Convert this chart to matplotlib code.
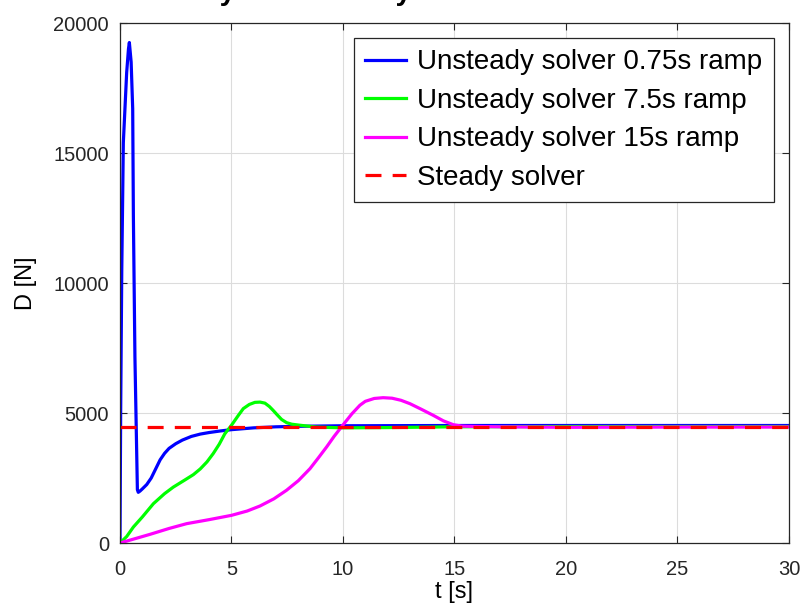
import matplotlib
matplotlib.use('Agg')
import matplotlib.pyplot as plt
import numpy as np

plt.rcParams['font.family'] = ['Liberation Sans', 'DejaVu Sans']

# drag history
t_fast = [0, 0.03, 0.08, 0.15, 0.3, 0.38, 0.42, 0.5, 0.57, 0.6, 0.67, 0.78, 0.82, 0.9,
          1.0, 1.2, 1.4, 1.6, 1.8, 2.0, 2.2, 2.5, 2.8, 3.2, 3.6, 4.0, 4.5, 5.0, 6.0,
          7.0, 8.0, 10, 15, 20, 25, 30]
d_fast = [0, 5000, 10500, 15400, 18100, 19000, 19250, 18500, 16700, 12600, 7150, 2050,
          1950, 2000, 2080, 2250, 2500, 2850, 3200, 3450, 3640, 3820, 3960, 4100, 4190,
          4250, 4310, 4360, 4430, 4470, 4490, 4510, 4520, 4520, 4520, 4520]

t_mid = [0, 0.3, 0.6, 1.0, 1.5, 2.0, 2.39, 2.9, 3.29, 3.6, 3.9, 4.18, 4.45, 4.7, 5.0,
         5.3, 5.53, 5.8, 6.05, 6.28, 6.5, 6.7, 6.87, 7.05, 7.25, 7.47, 7.7, 8.07, 8.8,
         10, 12, 15, 20, 25, 30]
d_mid = [0, 250, 615, 1000, 1515, 1900, 2150, 2420, 2630, 2850, 3120, 3440, 3800, 4200,
         4530, 4900, 5170, 5330, 5410, 5420, 5380, 5250, 5100, 4930, 4750, 4630, 4570,
         4530, 4460, 4430, 4440, 4470, 4480, 4480, 4480]

t_slow = [0, 1.35, 2.2, 2.99, 4.0, 5.0, 5.7, 6.28, 6.9, 7.47, 8.0, 8.52, 8.9, 9.27, 9.6,
          9.99, 10.4, 10.76, 11.0, 11.4, 11.8, 12.2, 12.6, 13.0, 13.5, 14.05, 14.5,
          14.95, 15.3, 15.55, 17, 20, 25, 30]
d_slow = [0, 335, 560, 745, 900, 1065, 1230, 1425, 1700, 2030, 2400, 2860, 3280, 3700,
          4100, 4530, 4970, 5300, 5450, 5560, 5590, 5570, 5490, 5360, 5150, 4910, 4700,
          4550, 4500, 4490, 4470, 4450, 4460, 4460]

d_steady = 4480

fig = plt.figure(figsize=(8.01, 6.12), dpi=100)
ax = fig.add_axes([0.1498, 0.1127, 0.8352, 0.8497])

ax.plot(t_fast, d_fast, color='#0000ff', lw=2.3, label='Unsteady solver 0.75s ramp')
ax.plot(t_mid, d_mid, color='#00ff00', lw=2.3, label='Unsteady solver 7.5s ramp')
ax.plot(t_slow, d_slow, color='#ff00ff', lw=2.3, label='Unsteady solver 15s ramp')
ax.plot([0, 30], [d_steady, d_steady], color='#ff0000', lw=2.3, dashes=(5, 3.5),
        label='Steady solver')

ax.set_xlim(0, 30)
ax.set_ylim(0, 20000)
ax.set_xticks(np.arange(0, 31, 5))
ax.set_yticks(np.arange(0, 20001, 5000))
ax.grid(True, color='#dcdcdc', lw=0.8)
ax.set_axisbelow(True)
ax.tick_params(direction='in', top=True, right=True, labelsize=14.5, colors='#262626',
               length=5)
ax.tick_params(axis='x', pad=12)
ax.tick_params(axis='y', pad=8)
for s in ax.spines.values():
    s.set_color('#262626')
    s.set_linewidth(0.9)

ax.set_xlabel('t [s]', fontsize=17, labelpad=2)
ax.set_ylabel('D [N]', fontsize=17, labelpad=12)

leg = ax.legend(loc='upper right', fontsize=20, fancybox=False, framealpha=1,
                edgecolor='#262626', handlelength=1.5, handletextpad=0.4,
                borderaxespad=0.55, borderpad=0.4, labelspacing=0.45)
leg.get_frame().set_linewidth(0.9)

# title cut by the top edge of the picture
fig.text(0.346, 1.0, 'Steady vs Unsteady', fontsize=20.5, fontweight='bold',
         ha='center', va='baseline')

fig.savefig('out.png', dpi=100)
